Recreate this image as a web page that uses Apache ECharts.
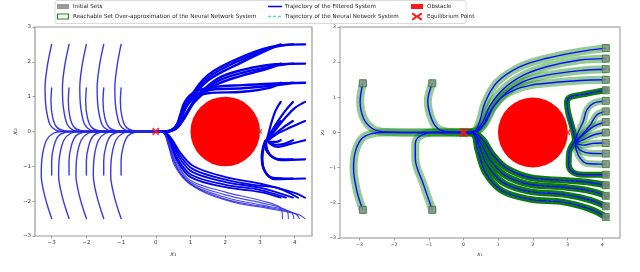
<!DOCTYPE html>
<html><head><meta charset="utf-8">
<script src="https://cdn.jsdelivr.net/npm/echarts@6/dist/echarts.min.js"></script>
<style>html,body{margin:0;padding:0;background:#fff}#c{width:640px;height:272px}</style>
</head><body><div id="c"></div>
<script>
// ---------- DATA ----------
const xTicks = [-3, -2, -1, 0, 1, 2, 3, 4];
const yTicks = [-3, -2, -1, 0, 1, 2, 3];
const obstacle = [[2, 0, 1]]; // centre x, centre y, radius
const equilibriumMain = [[0, 0]];
const equilibriumSide = [[3, 0]];

// Left panel: trajectories of the filtered system, left half (starts at x0 = -3..-1)
const leftUpper = [
  [[-3,2.5],[-3.13,1.85],[-3.19,1.25],[-3.16,0.67],[-3.05,0.2],[-2.88,0.04],[-2.6,0],[0,0]],
  [[-2.5,2.5],[-2.63,1.85],[-2.69,1.25],[-2.66,0.67],[-2.55,0.2],[-2.38,0.04],[-2.1,0],[0,0]],
  [[-2,2.5],[-2.13,1.85],[-2.19,1.25],[-2.16,0.67],[-2.05,0.2],[-1.88,0.04],[-1.6,0],[0,0]],
  [[-1.5,2.5],[-1.63,1.85],[-1.69,1.25],[-1.66,0.67],[-1.55,0.2],[-1.38,0.04],[-1.1,0],[0,0]],
  [[-1,2.5],[-1.12,1.85],[-1.18,1.25],[-1.15,0.67],[-1.04,0.2],[-0.87,0.04],[-0.6,0],[0,0]],
  [[-3,1.25],[-3.02,0.86],[-2.97,0.4],[-2.85,0.12],[-2.65,0.02],[-2.4,0],[0,0]],
  [[-2.5,1.25],[-2.52,0.86],[-2.47,0.4],[-2.35,0.12],[-2.15,0.02],[-1.9,0],[0,0]],
  [[-2,1.25],[-2.02,0.86],[-1.97,0.4],[-1.85,0.12],[-1.65,0.02],[-1.4,0],[0,0]],
  [[-1.5,1.25],[-1.52,0.86],[-1.47,0.4],[-1.35,0.12],[-1.15,0.02],[-0.9,0],[0,0]],
  [[-1,1.25],[-1.02,0.86],[-0.97,0.4],[-0.85,0.12],[-0.65,0.02],[-0.4,0],[0,0]]
];
const leftLower = [
  [[-3,-2.5],[-3.2,-1.85],[-3.3,-1.25],[-3.27,-0.7],[-3.15,-0.25],[-2.95,-0.05],[-2.7,0],[0,0]],
  [[-2.5,-2.5],[-2.7,-1.85],[-2.8,-1.25],[-2.77,-0.7],[-2.65,-0.25],[-2.45,-0.05],[-2.2,0],[0,0]],
  [[-2,-2.5],[-2.2,-1.85],[-2.3,-1.25],[-2.27,-0.7],[-2.15,-0.25],[-1.95,-0.05],[-1.7,0],[0,0]],
  [[-1.5,-2.5],[-1.7,-1.85],[-1.8,-1.25],[-1.77,-0.7],[-1.65,-0.25],[-1.45,-0.05],[-1.2,0],[0,0]],
  [[-1,-2.5],[-1.2,-1.85],[-1.3,-1.25],[-1.27,-0.7],[-1.15,-0.25],[-0.95,-0.05],[-0.7,0],[0,0]],
  [[-3,-1.25],[-3.0,-0.85],[-2.93,-0.4],[-2.8,-0.12],[-2.6,-0.02],[-2.35,0],[0,0]],
  [[-2.5,-1.25],[-2.5,-0.85],[-2.43,-0.4],[-2.3,-0.12],[-2.1,-0.02],[-1.85,0],[0,0]],
  [[-2,-1.25],[-2.0,-0.85],[-1.93,-0.4],[-1.8,-0.12],[-1.6,-0.02],[-1.35,0],[0,0]],
  [[-1.5,-1.25],[-1.5,-0.85],[-1.43,-0.4],[-1.3,-0.12],[-1.1,-0.02],[-0.85,0],[0,0]],
  [[-1,-1.25],[-1.0,-0.85],[-0.93,-0.4],[-0.8,-0.12],[-0.6,-0.02],[-0.35,0],[0,0]]
];
// Left panel: bands going over the obstacle
const leftBandsOver = [
  [[4.3,2.5],[3.5,2.46],[2.5,2.15],[1.5,1.62],[0.95,0.92],[0.7,0.35],[0.5,0.07],[0.3,0],[0,0]],
  [[3.95,2.5],[3.4,2.42],[2.5,2.08],[1.5,1.54],[0.93,0.84],[0.69,0.31],[0.5,0.06],[0.3,0],[0,0]],
  [[3.6,2.5],[3.3,2.38],[2.5,2.0],[1.5,1.46],[0.9,0.76],[0.68,0.28],[0.5,0.05],[0.3,0],[0,0]],
  [[4.3,1.95],[3.45,1.93],[2.5,1.77],[1.8,1.53],[1.23,1.05],[0.84,0.47],[0.6,0.12],[0.3,0],[0,0]],
  [[3.95,1.95],[3.4,1.88],[2.5,1.69],[1.75,1.43],[1.18,0.96],[0.82,0.4],[0.6,0.1],[0.3,0],[0,0]],
  [[3.6,1.95],[3.3,1.83],[2.5,1.61],[1.71,1.33],[1.13,0.86],[0.79,0.33],[0.58,0.08],[0.3,0],[0,0]],
  [[4.3,1.4],[3.45,1.38],[2.5,1.33],[1.7,1.28],[1.13,1.14],[0.84,0.86],[0.7,0.47],[0.58,0.15],[0.3,0],[0,0]],
  [[3.95,1.4],[3.4,1.32],[2.5,1.24],[1.6,1.2],[1.08,1.02],[0.8,0.68],[0.66,0.3],[0.55,0.1],[0.3,0],[0,0]],
  [[3.6,1.4],[3.3,1.26],[2.5,1.14],[1.5,1.1],[1.03,0.9],[0.75,0.47],[0.6,0.14],[0.3,0],[0,0]]
];
// Left panel: bands that stop at the right side of the obstacle
const leftBandsSide = [
  [[4.3,0.85],[4.0,0.67],[3.72,0.38],[3.44,0.04],[3.25,-0.2]],
  [[3.95,0.85],[3.75,0.62],[3.52,0.3],[3.33,0.0],[3.22,-0.22]],
  [[3.6,0.85],[3.45,0.6],[3.33,0.25],[3.25,-0.05],[3.2,-0.24]],
  [[4.3,0.3],[3.82,0.09],[3.44,-0.1],[3.25,-0.24]],
  [[3.95,0.3],[3.65,0.1],[3.4,-0.1],[3.22,-0.24]],
  [[3.6,0.3],[3.45,0.12],[3.3,-0.08],[3.2,-0.24]],
  [[4.3,-0.25],[3.82,-0.37],[3.53,-0.44],[3.34,-0.39],[3.22,-0.27]],
  [[3.95,-0.25],[3.7,-0.35],[3.45,-0.38],[3.3,-0.33],[3.2,-0.26]],
  [[3.6,-0.25],[3.45,-0.3],[3.3,-0.3],[3.2,-0.25]],
  [[4.3,-0.8],[3.63,-0.82],[3.34,-0.72],[3.2,-0.5],[3.18,-0.28]],
  [[3.95,-0.8],[3.55,-0.8],[3.3,-0.68],[3.18,-0.46],[3.17,-0.27]],
  [[3.6,-0.8],[3.4,-0.75],[3.22,-0.6],[3.15,-0.42],[3.16,-0.26]],
  [[4.3,-1.35],[3.44,-1.37],[3.15,-1.15],[3.07,-0.77],[3.1,-0.48],[3.17,-0.28]],
  [[3.95,-1.35],[3.35,-1.33],[3.12,-1.1],[3.06,-0.74],[3.1,-0.46],[3.16,-0.27]],
  [[3.6,-1.35],[3.28,-1.3],[3.1,-1.05],[3.05,-0.7],[3.09,-0.45],[3.15,-0.27]]
];
// Left panel: bands going under the obstacle
const leftBandsUnder = [
  [[4.3,-1.9],[4.0,-1.76],[3.02,-1.5],[2.01,-1.31],[1.09,-1.0],[0.7,-0.6],[0.45,-0.2],[0.25,-0.02],[0,0]],
  [[4.1,-1.9],[3.5,-1.62],[3.02,-1.56],[2.01,-1.38],[1.07,-1.08],[0.68,-0.66],[0.44,-0.22],[0.25,-0.02],[0,0]],
  [[3.95,-1.9],[3.02,-1.62],[2.01,-1.45],[1.05,-1.16],[0.66,-0.72],[0.43,-0.25],[0.25,-0.02],[0,0]],
  [[3.75,-1.9],[3.02,-1.68],[2.01,-1.53],[1.02,-1.24],[0.63,-0.78],[0.41,-0.27],[0.25,-0.03],[0,0]],
  [[3.6,-1.9],[3.02,-1.74],[2.01,-1.6],[1.0,-1.31],[0.61,-0.83],[0.4,-0.3],[0.25,-0.03],[0,0]],
  [[3.65,-2.5],[3.6,-2.2],[3.02,-1.98],[2.01,-1.74],[0.99,-1.4],[0.58,-0.85],[0.38,-0.3],[0.22,-0.03],[0,0]],
  [[3.82,-2.5],[3.75,-2.25],[3.05,-2.05],[2.01,-1.82],[0.99,-1.45],[0.57,-0.9],[0.37,-0.32],[0.22,-0.03],[0,0]],
  [[3.98,-2.5],[3.88,-2.3],[3.1,-2.12],[2.05,-1.9],[1.0,-1.5],[0.56,-0.95],[0.36,-0.34],[0.22,-0.03],[0,0]],
  [[4.14,-2.5],[4.0,-2.35],[3.15,-2.16],[2.1,-1.97],[1.0,-1.52],[0.55,-1.0],[0.35,-0.36],[0.22,-0.03],[0,0]],
  [[4.3,-2.5],[4.1,-2.38],[3.2,-2.2],[2.24,-2.03],[1.3,-1.7],[0.7,-1.2],[0.4,-0.5],[0.22,-0.04],[0,0]]
];

// Right panel trajectories
const rightOver = [
  [[4.1,2.4],[3.36,2.3],[2.4,2.11],[1.63,1.87],[0.96,1.42],[0.62,0.85],[0.46,0.3],[0.3,0.03],[0,0]],
  [[4.1,2.1],[3.36,2.06],[2.4,1.87],[1.73,1.63],[1.15,1.24],[0.76,0.76],[0.56,0.3],[0.32,0.03],[0,0]],
  [[4.1,1.8],[3.36,1.76],[2.4,1.63],[1.73,1.45],[1.25,1.15],[0.86,0.72],[0.62,0.26],[0.34,0.03],[0,0]],
  [[4.1,1.5],[3.36,1.48],[2.4,1.4],[1.92,1.34],[1.44,1.2],[1.05,0.96],[0.76,0.58],[0.56,0.2],[0.35,0.02],[0,0]]
];
const rightLoop = [
  [[4.1,1.2],[3.74,1.14],[3.36,1.07],[3.06,1.0],[2.98,0.85],[3.02,0.55],[3.12,0.2],[3.2,-0.12],[3.22,-0.26]],
  [[4.1,-1.2],[3.45,-1.2],[3.14,-1.12],[3.03,-0.9],[3.05,-0.55],[3.15,-0.33],[3.22,-0.28]]
];
const rightFan = [
  [[4.1,0.9],[3.74,0.83],[3.55,0.64],[3.45,0.31],[3.31,0.02],[3.22,-0.22]],
  [[4.1,0.6],[3.84,0.5],[3.65,0.21],[3.41,-0.07],[3.22,-0.25]],
  [[4.1,0.3],[3.74,0.17],[3.45,-0.07],[3.22,-0.27]],
  [[4.1,0.0],[3.74,-0.07],[3.45,-0.21],[3.22,-0.29]],
  [[4.1,-0.3],[3.74,-0.31],[3.45,-0.36],[3.22,-0.31]],
  [[4.1,-0.6],[3.65,-0.59],[3.41,-0.53],[3.26,-0.4],[3.22,-0.32]],
  [[4.1,-0.9],[3.55,-0.88],[3.36,-0.73],[3.24,-0.47],[3.22,-0.33]]
];
const rightUnder = [
  [[4.1,-1.5],[3.65,-1.42],[2.88,-1.36],[1.92,-1.28],[1.25,-1.02],[0.86,-0.66],[0.57,-0.22],[0.3,-0.02],[0,0]],
  [[4.1,-1.8],[3.65,-1.66],[2.88,-1.55],[1.92,-1.48],[1.2,-1.22],[0.78,-0.8],[0.5,-0.3],[0.3,-0.03],[0,0]],
  [[4.1,-2.1],[3.65,-1.92],[2.88,-1.76],[1.92,-1.68],[1.15,-1.43],[0.7,-0.95],[0.45,-0.38],[0.3,-0.04],[0,0]],
  [[4.1,-2.4],[3.65,-2.18],[2.88,-1.98],[1.92,-1.9],[1.1,-1.65],[0.62,-1.12],[0.4,-0.45],[0.3,-0.05],[0,0]]
];
const rightLeftSide = [
  [[-2.9,1.4],[-2.98,0.88],[-2.88,0.4],[-2.64,0.12],[-2.35,0.02],[-1.5,0],[0,0]],
  [[-2.9,-2.2],[-3.07,-1.68],[-3.17,-1.02],[-3.12,-0.55],[-2.93,-0.17],[-2.64,-0.03],[-2.35,0],[-1.5,0],[0,0]],
  [[-0.9,1.4],[-1.03,0.88],[-0.91,0.36],[-0.72,0.1],[-0.43,0.02],[0,0]],
  [[-0.9,-2.2],[-1.15,-1.49],[-1.39,-0.73],[-1.39,-0.31],[-1.25,-0.1],[-0.91,0],[0,0]]
];
const rightInitialSets = [
  [-2.9,1.4],[-2.9,-2.2],[-0.9,1.4],[-0.9,-2.2],
  [4.1,2.4],[4.1,2.1],[4.1,1.8],[4.1,1.5],[4.1,1.2],[4.1,0.9],[4.1,0.6],[4.1,0.3],[4.1,0.0],
  [4.1,-0.3],[4.1,-0.6],[4.1,-0.9],[4.1,-1.2],[4.1,-1.5],[4.1,-1.8],[4.1,-2.1],[4.1,-2.4]
];

// ---------- CHART ----------
const FONT = 'DejaVu Sans';
const XMARK = 'path://M2,0 L5,3 L8,0 L10,2 L7,5 L10,8 L8,10 L5,7 L2,10 L0,8 L3,5 L0,2 Z';
const minus = v => (v < 0 ? '\u2212' + (-v) : String(v));
const chart = echarts.init(document.getElementById('c'), null, {renderer: 'canvas'});

function axisX(gi, min, max, fs, gap) {
  return {
    type: 'value', gridIndex: gi, min, max,
    name: 'x\u2081', nameLocation: 'middle', nameGap: gap,
    nameTextStyle: {fontFamily: FONT, fontSize: fs + 1, color: '#333', fontStyle: 'italic'},
    axisLine: {show: false, onZero: false}, splitLine: {show: false},
    axisTick: {show: true, length: 2.5, customValues: xTicks, lineStyle: {color: '#888', width: 0.8}},
    axisLabel: {customValues: xTicks, formatter: minus, fontFamily: FONT, fontSize: fs, color: '#333', margin: 4}
  };
}
function axisY(gi, fs, gap) {
  return {
    type: 'value', gridIndex: gi, min: -3, max: 3, interval: 1,
    name: 'x\u2082', nameLocation: 'middle', nameGap: gap, nameRotate: 90,
    nameTextStyle: {fontFamily: FONT, fontSize: fs + 1, color: '#333', fontStyle: 'italic'},
    axisLine: {show: false, onZero: false}, splitLine: {show: false},
    axisTick: {show: true, length: 2.5, customValues: yTicks, lineStyle: {color: '#888', width: 0.8}},
    axisLabel: {customValues: yTicks, formatter: minus, fontFamily: FONT, fontSize: fs, color: '#333', margin: 4}
  };
}

const series = [];
function addLine(data, gi, color, width, extra) {
  series.push(Object.assign({
    type: 'line', xAxisIndex: gi, yAxisIndex: gi, data,
    showSymbol: false, symbol: 'none', smooth: 0.35, silent: true, animation: false,
    lineStyle: {color, width, cap: 'round', join: 'round'}, z: 3
  }, extra || {}));
}
function obstacleSeries(gi) {
  return {
    type: 'custom', xAxisIndex: gi, yAxisIndex: gi, data: obstacle, silent: true, animation: false, z: 1,
    renderItem: (params, api) => {
      const c = api.coord([api.value(0), api.value(1)]);
      const s = api.size([api.value(2), api.value(2)]);
      return {type: 'circle', shape: {cx: c[0], cy: c[1], r: (s[0] + s[1]) / 2}, style: {fill: '#ff0000'}};
    }
  };
}
function eqSeries(gi, data, size) {
  return {type: 'scatter', xAxisIndex: gi, yAxisIndex: gi, data, symbol: XMARK, symbolSize: size,
    itemStyle: {color: '#ff1a1a'}, silent: true, animation: false, z: 10};
}

// left panel
series.push(obstacleSeries(0));
const leftBlue = 'rgba(35,35,225,0.9)';
leftUpper.concat(leftLower).forEach(d => addLine(d, 0, leftBlue, 1.4));
leftBandsOver.forEach(d => addLine(d, 0, '#0000f0', 2.4));
leftBandsSide.forEach(d => addLine(d, 0, '#0000f0', 2.2));
leftBandsUnder.forEach((d, i) => addLine(d, 0, i < 5 ? '#0000f0' : 'rgba(40,40,230,0.85)', i < 5 ? 1.8 : 1.1));
series.push(eqSeries(0, equilibriumMain, 8));
series.push(eqSeries(0, equilibriumSide, 5));

// right panel
series.push(obstacleSeries(1));
const greenLight = 'rgba(0,128,0,0.42)';
const greenDark = 'rgba(0,115,0,0.95)';
rightOver.forEach(d => addLine(d, 1, greenLight, 8, {z: 2}));
rightFan.forEach(d => addLine(d, 1, greenLight, 7, {z: 2}));
rightLeftSide.forEach(d => addLine(d, 1, greenLight, 8, {z: 2}));
rightLoop.forEach(d => addLine(d, 1, greenDark, 6, {z: 2}));
rightUnder.forEach(d => addLine(d, 1, greenDark, 6.5, {z: 2}));
const allRight = rightOver.concat(rightLoop, rightFan, rightUnder, rightLeftSide);
allRight.forEach(d => addLine(d, 1, '#5fd6cc', 1, {z: 3, lineStyle: {color: '#5fd6cc', width: 1, type: [3, 2]}}));
allRight.forEach(d => addLine(d, 1, '#0a0aff', 1.4, {z: 4}));
series.push({type: 'scatter', xAxisIndex: 1, yAxisIndex: 1, data: rightInitialSets, symbol: 'rect', symbolSize: 7,
  itemStyle: {color: '#8f8f8f', borderColor: '#2e7d2e', borderWidth: 1}, silent: true, animation: false, z: 5});
series.push(eqSeries(1, equilibriumMain, 10));
series.push(eqSeries(1, equilibriumSide, 6));

// legend (graphic)
const LX1 = 57, LX2 = 268, LX3 = 411, R1 = 6.5, R2 = 16.5;
const lt = (x, y, t) => ({type: 'text', x, y, style: {text: t, fontFamily: FONT, fontSize: 5.6, fill: '#222', verticalAlign: 'middle'}, z: 100});
const legend = [
  {type: 'rect', shape: {x: 55, y: 0.5, width: 411, height: 23, r: 2}, style: {fill: '#fff', stroke: '#d0d0d0', lineWidth: 0.8}, z: 99},
  {type: 'rect', shape: {x: LX1, y: R1 - 2.5, width: 12, height: 5}, style: {fill: '#9a9a9a'}, z: 100},
  lt(73, R1, 'Initial Sets'),
  {type: 'rect', shape: {x: LX1 + 0.5, y: R2 - 2.5, width: 11, height: 5}, style: {fill: '#fff', stroke: '#1a8a1a', lineWidth: 1.2}, z: 100},
  lt(73, R2, 'Reachable Set Over-approximation of the Neural Network System'),
  {type: 'line', shape: {x1: LX2, y1: R1, x2: LX2 + 14, y2: R1}, style: {stroke: '#0000ff', lineWidth: 1.5}, z: 100},
  lt(285, R1, 'Trajectory of the Filtered System'),
  {type: 'line', shape: {x1: LX2, y1: R2, x2: LX2 + 14, y2: R2}, style: {stroke: '#5fd6cc', lineWidth: 1.3, lineDash: [3, 2]}, z: 100},
  lt(285, R2, 'Trajectory of the Neural Network System'),
  {type: 'rect', shape: {x: LX3, y: R1 - 2.5, width: 12, height: 5}, style: {fill: '#ff1a1a'}, z: 100},
  lt(427, R1, 'Obstacle'),
  {type: 'polygon', shape: {points: [[413,12.5],[417,15.5],[421,12.5],[422.5,14],[419,16.5],[422.5,19],[421,20.5],[417,17.5],[413,20.5],[411.5,19],[415,16.5],[411.5,14]]}, style: {fill: '#ff1a1a'}, z: 100},
  lt(427, R2, 'Equilibrium Point')
];

chart.setOption({
  animation: false,
  backgroundColor: '#fff',
  grid: [
    {left: 35, top: 27, width: 277, height: 209, show: true, borderColor: '#9a9a9a', borderWidth: 1.2, backgroundColor: 'transparent'},
    {left: 340, top: 27, width: 280, height: 211, show: true, borderColor: '#b5b5b5', borderWidth: 1.4, backgroundColor: 'transparent'}
  ],
  xAxis: [axisX(0, -3.48, 4.5, 5.5, 10), axisX(1, -3.56, 4.51, 4.6, 7)],
  yAxis: [axisY(0, 5.5, 15), axisY(1, 4.6, 11)],
  series,
  graphic: legend
});
</script></body></html>
